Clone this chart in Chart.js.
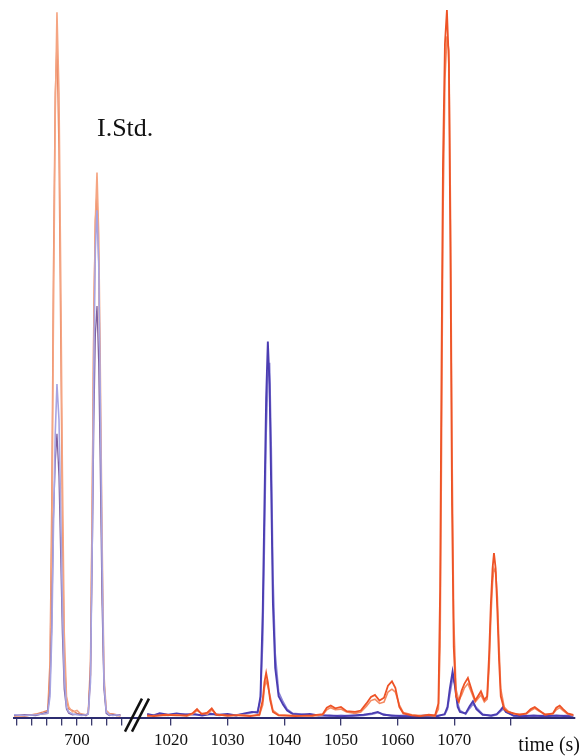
<!DOCTYPE html>
<html>
<head>
<meta charset="utf-8">
<script src="https://cdn.jsdelivr.net/npm/chart.js@4"></script>
<style>
  html, body { margin: 0; padding: 0; background: #fff; }
</style>
</head>
<body>
<canvas id="chrom" width="581" height="756"></canvas>
<script>
// left segment (around 700 s) - internal standard peaks
let leftTime = [691.6, 693, 694.5, 695.5,
  696.1, 696.4, 696.65, 696.85, 697.1, 697.33, 697.6, 697.85, 698.05, 698.3, 698.6, 698.9,
  699.4, 700, 700.6, 701.2,
  701.5, 701.8, 702.05, 702.25, 702.45, 702.67, 702.9, 703.1, 703.35, 703.6, 703.9,
  704.3, 704.8, 705.3, 705.8];
let orangeL1 = [0.2, 0.3, 0.4, 0.5,
  0.6, 5, 25, 55, 85, 99.4, 88, 60, 35, 12, 3, 1.5,
  0.8, 1.0, 0.4, 0.3,
  0.5, 6, 30, 55, 70, 76.8, 68, 50, 25, 6, 1,
  0.5, 0.4, 0.3, 0.2];
let orangeL2 = [0.3, 0.2, 0.5, 0.8,
  1.0, 8, 32, 62, 88, 95, 80, 52, 28, 9, 2.5, 1.2,
  1.0, 0.6, 0.5, 0.4,
  0.6, 8, 34, 58, 70, 74, 64, 44, 20, 5, 1,
  0.6, 0.5, 0.4, 0.3];
let purpleL1 = [0.4, 0.3, 0.4, 0.5,
  0.6, 3, 12, 26, 40, 47, 42, 28, 16, 6, 1.5, 0.8,
  0.5, 0.4, 0.3, 0.4,
  0.5, 5, 26, 50, 66, 71.5, 64, 46, 22, 5, 0.8,
  0.4, 0.3, 0.4, 0.3];
let purpleL2 = [0.3, 0.4, 0.3, 0.6,
  0.8, 4, 14, 28, 36, 40, 34, 22, 12, 4, 1.2, 0.6,
  0.4, 0.5, 0.4, 0.3,
  0.6, 6, 24, 42, 54, 58, 50, 36, 16, 4, 0.6,
  0.3, 0.4, 0.3, 0.4];

// right segment (1015 - 1091 s)
let redTime = [1015.8, 1017, 1019, 1021, 1022.8, 1023.8, 1024.6, 1025.4, 1026.4, 1027.2,
  1028, 1030, 1032, 1034,
  1035.6, 1036.2, 1036.5, 1036.8, 1037.1, 1037.5, 1038,
  1039, 1042, 1045,
  1046.8, 1047.5, 1048.2, 1049, 1050, 1051,
  1052.5, 1053.5, 1054.5, 1055.3, 1056, 1056.8, 1057.6, 1058.3, 1059, 1059.6, 1060.3, 1061,
  1062.5, 1064, 1065.5, 1066.6,
  1067.2, 1067.5, 1067.75, 1068.0, 1068.35, 1068.7, 1069.05, 1069.35, 1069.6, 1069.9,
  1070.3, 1070.8, 1071.3, 1071.8, 1072.4, 1073.1, 1073.7, 1074.7, 1075.3,
  1075.8, 1076.15, 1076.45, 1076.75, 1077.0, 1077.3, 1077.6, 1077.9, 1078.2,
  1078.8, 1079.5, 1080.5, 1081.5, 1082.7, 1083.5, 1084.2, 1085, 1086,
  1087.4, 1088, 1088.6, 1089.2, 1090, 1091];
let redA = [0.3, 0.2, 0.4, 0.3, 0.3, 0.6, 1.2, 0.5, 0.7, 1.3,
  0.4, 0.3, 0.3, 0.2,
  0.4, 2.5, 5, 6.3, 5, 2.5, 0.8,
  0.3, 0.2, 0.3,
  0.5, 1.4, 1.7, 1.3, 1.5, 0.9,
  0.8, 1.0, 2.0, 2.9, 3.2, 2.4, 2.8, 4.5, 5.1, 4.2, 1.5, 0.6,
  0.3, 0.2, 0.4, 0.3,
  2, 18, 50, 78, 95, 99.7, 92, 62, 30, 10,
  3, 2.2, 3.8, 4.8, 5.6, 3.8, 2.4, 3.7, 2.5,
  3, 9, 16, 21, 23.2, 21, 15, 8, 3,
  1.2, 0.8, 0.6, 0.4, 0.6, 1.2, 1.5, 1.0, 0.4,
  0.6, 1.4, 1.7, 1.2, 0.6, 0.4];
let redB = [0.2, 0.3, 0.3, 0.4, 0.2, 0.5, 1.0, 0.6, 0.5, 1.1,
  0.5, 0.2, 0.4, 0.3,
  0.3, 1.8, 4.2, 5.2, 4.4, 3.0, 1.0,
  0.4, 0.3, 0.2,
  0.4, 1.1, 1.4, 1.1, 1.2, 0.8,
  0.6, 0.8, 1.6, 2.4, 2.6, 2.0, 2.2, 3.6, 4.0, 3.6, 1.8, 0.7,
  0.4, 0.3, 0.3, 0.2,
  1.2, 10, 38, 70, 90, 96, 94, 70, 38, 14,
  4, 2.4, 3.2, 4.2, 4.8, 3.4, 2.2, 3.2, 2.2,
  2.6, 7, 14, 19, 21, 20.5, 17, 10, 4,
  1.5, 0.9, 0.5, 0.5, 0.5, 1.0, 1.3, 0.9, 0.5,
  0.5, 1.1, 1.4, 1.0, 0.5, 0.3];

let blueTime = [1015.8, 1017, 1018, 1019.5, 1021, 1022.5, 1024, 1025.5, 1027, 1028.5, 1030, 1031.5, 1033, 1034.3, 1035.3,
  1035.8, 1036.2, 1036.5, 1036.8, 1037.1, 1037.4, 1037.7, 1038.0, 1038.4, 1039, 1039.8, 1040.5,
  1041.5, 1043, 1044.5, 1046, 1048, 1050, 1052, 1054, 1055.5, 1056.5, 1057.5, 1059, 1061, 1063, 1065, 1067, 1068.3,
  1068.8, 1069.2, 1069.7, 1070.1, 1070.6, 1071, 1072, 1072.7, 1073.3, 1073.9, 1075,
  1076.5, 1077.5, 1078.2, 1078.6, 1079.1, 1080.5, 1082, 1084, 1086, 1088, 1090, 1091];
let blueA = [0.5, 0.3, 0.6, 0.4, 0.6, 0.4, 0.5, 0.3, 0.5, 0.4, 0.5, 0.3, 0.6, 0.8, 0.7,
  3, 15, 30, 45, 53, 47, 32, 16, 7, 3, 1.8, 1.0,
  0.5, 0.4, 0.5, 0.3, 0.3, 0.2, 0.3, 0.4, 0.6, 0.8, 0.4, 0.3, 0.2, 0.2, 0.3, 0.2, 0.5,
  1.5, 4, 6.5, 4.5, 1.5, 0.8, 0.6, 1.6, 2.3, 1.2, 0.4,
  0.3, 0.5, 1.1, 1.5, 0.8, 0.3, 0.2, 0.3, 0.2, 0.3, 0.2, 0.3];
let blueB = [0.4, 0.4, 0.5, 0.3, 0.5, 0.5, 0.4, 0.4, 0.6, 0.3, 0.4, 0.4, 0.5, 0.7, 0.9,
  2.5, 11, 25, 40, 48, 50, 38, 20, 9, 3.6, 2.2, 1.2,
  0.6, 0.5, 0.4, 0.4, 0.2, 0.3, 0.2, 0.3, 0.5, 0.7, 0.5, 0.2, 0.3, 0.2, 0.2, 0.3, 0.4,
  1.2, 3.2, 5.5, 4.8, 2, 1.0, 0.5, 1.3, 1.9, 1.4, 0.5,
  0.2, 0.4, 0.9, 1.2, 0.9, 0.2, 0.3, 0.2, 0.3, 0.2, 0.3, 0.2];

// axis ticks
let tickTimes = [692, 694, 696, 698, 700, 702, 704, 706, 1020, 1030, 1040, 1050, 1060, 1070, 1080];
let tickLabels = ['', '', '', '', '700', '', '', '', '1020', '1030', '1040', '1050', '1060', '1070', ''];

// broken axis: the left piece is stretched and shifted onto the right piece's scale
const LEFT_OFFSET = 1003.42;
const LEFT_STRETCH = 1.323;
function toU(t) {
  return t < 900 ? LEFT_OFFSET + (t - 700) * LEFT_STRETCH : t;
}
function pts(times, vals) {
  return times.map((t, i) => ({ x: toU(t), y: vals[i] }));
}
function trace(times, vals, color, width) {
  return {
    data: pts(times, vals),
    borderColor: color,
    borderWidth: width,
    pointRadius: 0,
    tension: 0,
    fill: false
  };
}

// texts and the "//" break marks
const extras = {
  id: 'extras',
  afterDraw(chart) {
    let ctx = chart.ctx;
    let xs = chart.scales.x;
    let ys = chart.scales.y;
    let base = ys.getPixelForValue(0);
    ctx.save();
    // break marks
    let bx = xs.getPixelForValue(toU(706.4));
    ctx.strokeStyle = '#111';
    ctx.lineWidth = 2.5;
    [0, 7].forEach(off => {
      ctx.beginPath();
      ctx.moveTo(bx + off, base + 14);
      ctx.lineTo(bx + off + 17, base - 19);
      ctx.stroke();
    });
    // labels
    ctx.fillStyle = '#111';
    ctx.font = '26px "Liberation Serif"';
    ctx.textAlign = 'left';
    ctx.fillText('I.Std.', xs.getPixelForValue(toU(702.67)), ys.getPixelForValue(82));
    ctx.font = '20px "Liberation Serif"';
    ctx.textAlign = 'right';
    ctx.fillText('time (s)', 580, base + 33);
    ctx.restore();
  }
};

let chrom = document.getElementById('chrom').getContext('2d');
let chromChart = new Chart(chrom, {
  type: 'line',
  data: {
    datasets: [
      trace(redTime, redA, '#ee5326', 1.8),
      trace(redTime, redB, '#f48a62', 1.6),
      trace(leftTime, purpleL1, '#a7a4e2', 1.6),
      trace(leftTime, purpleL2, '#80609e', 1.3),
      trace(leftTime, orangeL1, '#f5a582', 1.6),
      trace(leftTime, orangeL2, '#e88460', 1.4),
      trace(blueTime, blueA, '#4b3db2', 1.9),
      trace(blueTime, blueB, '#8a84d6', 1.7)
    ]
  },
  options: {
    responsive: false,
    animation: false,
    layout: { padding: { left: 14, right: 6, top: 8, bottom: 0 } },
    plugins: {
      legend: { display: false },
      tooltip: { enabled: false }
    },
    scales: {
      x: {
        type: 'linear',
        min: toU(691.6),
        max: 1091.3,
        afterBuildTicks: scale => {
          scale.ticks = tickTimes.map(t => ({ value: toU(t) }));
        },
        ticks: {
          autoSkip: false,
          maxRotation: 0,
          padding: 5,
          color: '#111',
          font: { family: 'Liberation Serif', size: 17 },
          callback: (value, index) => tickLabels[index]
        },
        grid: {
          drawOnChartArea: false,
          drawTicks: true,
          tickLength: 8,
          color: '#3a3a6e',
          lineWidth: 1.3
        },
        border: { display: true, color: '#2c2c70', width: 2 }
      },
      y: {
        display: false,
        min: 0,
        max: 100
      }
    }
  },
  plugins: [extras]
});
</script>
</body>
</html>
